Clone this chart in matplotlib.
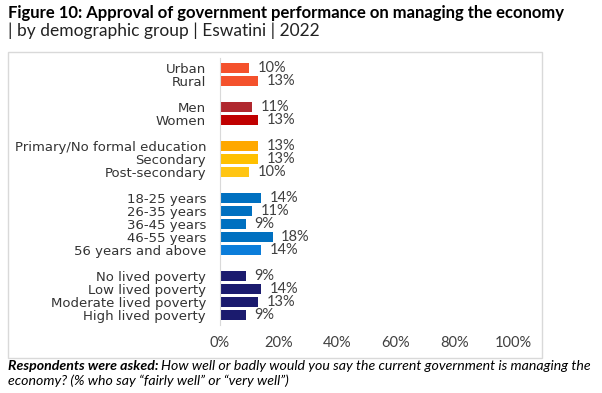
import numpy as np
import matplotlib
matplotlib.use("Agg")
from matplotlib import pyplot as plt
from matplotlib.patches import Rectangle

plt.rcParams['font.family'] = ['Lato', 'DejaVu Sans']

# data
groups = [
    ["Urban", "Rural"],
    ["Men", "Women"],
    ["Primary/No formal education", "Secondary", "Post-secondary"],
    ["18-25 years", "26-35 years", "36-45 years", "46-55 years", "56 years and above"],
    ["No lived poverty", "Low lived poverty", "Moderate lived poverty", "High lived poverty"],
]
values = [
    [10, 13],
    [11, 13],
    [13, 13, 10],
    [14, 11, 9, 18, 14],
    [9, 14, 13, 9],
]
colors = [
    ["#F4512C", "#F4512C"],
    ["#B0282F", "#C00000"],
    ["#FFA800", "#FFC000", "#FFC514"],
    ["#0070C0", "#0070C0", "#0070C0", "#0070C0", "#0B7DDA"],
    ["#1B1B6E", "#1B1B6E", "#1B1B6E", "#1B1B6E"],
]
xticks = [0, 20, 40, 60, 80, 100]

labels, vals, cols, pos = [], [], [], []
p = 0
for g, v, c in zip(groups, values, colors):
    for lab, val, col in zip(g, v, c):
        labels.append(lab)
        vals.append(val)
        cols.append(col)
        pos.append(p)
        p += 1
    p += 1

W, H = 602, 393
fig = plt.figure(figsize=(W / 100, H / 100), dpi=100)

# gray frame around the chart area
fig.patches.append(Rectangle((8 / W, 1 - 358 / H), 534 / W, 306 / H,
                             transform=fig.transFigure, fill=False,
                             edgecolor="#D9D9D9", linewidth=1))

ax = fig.add_axes([220 / W, 1 - 325 / H, 293 / W, 267 / H])
ax.barh(pos, vals, height=0.7, color=cols)
for y, v in zip(pos, vals):
    ax.annotate(f"{v}%", (v, y), xytext=(6, 0), textcoords="offset points",
                va="center", ha="left", fontsize=10.5, color="#404040")

ax.set_xlim(0, 100)
ax.set_ylim(pos[-1] + 0.77, -0.77)
ax.set_yticks(pos)
ax.set_yticklabels(labels, fontsize=9.5, color="#333333",
                   family=['DejaVu Sans'])
ax.set_xticks(xticks)
ax.set_xticklabels([f"{t}%" for t in xticks], fontsize=10.5, color="#404040")
ax.tick_params(axis="y", length=0, pad=10)
ax.tick_params(axis="x", length=0, pad=8)
for s in ["top", "right", "bottom"]:
    ax.spines[s].set_visible(False)
ax.spines["left"].set_color("#D9D9D9")

fig.text(8 / W, 1 - 13 / H, "Figure 10: Approval of government performance on managing the economy",
         fontsize=12, fontweight="bold", va="center", ha="left", color="black")
fig.text(8 / W, 1 - 31 / H, "| by demographic group | Eswatini | 2022",
         fontsize=12.5, va="center", ha="left", color="#222222")

t1 = fig.text(8 / W, 1 - 366 / H, "Respondents were asked:", fontsize=10.2,
              fontweight="bold", style="italic", va="center", ha="left")
fig.canvas.draw()
bb = t1.get_window_extent()
x2 = bb.x1 / fig.bbox.width + 3 / W
fig.text(x2, 1 - 366 / H,
         "How well or badly would you say the current government is managing the",
         fontsize=10.2, style="italic", va="center", ha="left")
fig.text(8 / W, 1 - 381 / H,
         "economy? (% who say \u201cfairly well\u201d or \u201cvery well\u201d)",
         fontsize=10.2, style="italic", va="center", ha="left")

fig.savefig("out.png", dpi=100)
